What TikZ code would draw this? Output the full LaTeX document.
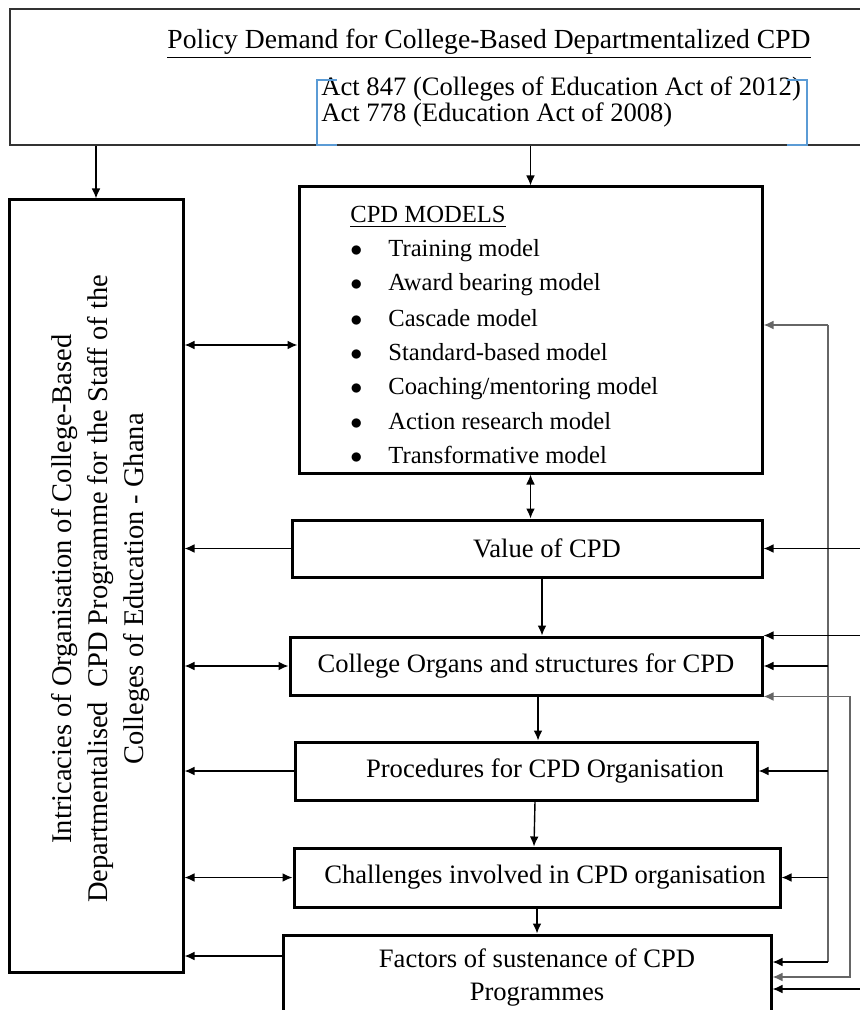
\documentclass[tikz,border=0pt]{standalone}
\usepackage{fontspec}
\setmainfont{Liberation Serif}
\usetikzlibrary{arrows.meta}
\usetikzlibrary{calc}
\definecolor{brack}{RGB}{91,155,213}
\tikzset{>={Latex[length=5pt,width=4.4pt]}}
\tikzset{box/.style={draw,line width=1.5pt,inner sep=0pt,align=center,font=\fontsize{13.3}{16.5}\selectfont}}
\tikzset{item/.style={anchor=base west,inner sep=0pt,font=\fontsize{12.3}{15}\selectfont}}
\tikzset{conn/.style={line width=.7pt}}
\tikzset{bus/.style={line width=.75pt,draw=black!60}}
\newcommand{\bulletitem}[1]{\makebox[1.545em][l]{$\bullet$}#1}

\begin{document}
\begin{tikzpicture}[x=.5pt,y=-.5pt]
  \useasboundingbox (0,0) rectangle (860,1010);
  % policy box on top
  \node[draw=black!80,line width=.9pt,minimum width=430pt,minimum height=68pt,inner sep=0pt] (policy) at (440,77) {};
  \node[anchor=base,inner sep=0pt,font=\fontsize{13.8}{16}\selectfont] (demand) at (489,49) {\underline{Policy Demand for College-Based Departmentalized CPD}};
  \node[anchor=base west,inner sep=0pt,font=\fontsize{13.3}{14}\selectfont] (act1) at (321,96) {Act 847 (Colleges of Education Act of 2012)};
  \node[anchor=base west,inner sep=0pt,font=\fontsize{13.3}{14}\selectfont] (act2) at (321,122) {Act 778 (Education Act of 2008)};
  \draw[brack,line width=.6pt] (337,80) -- (317,80) -- (317,145) -- (337,145);
  \draw[brack,line width=.6pt] (787,80) -- (807,80) -- (807,145) -- (787,145);

  % left box
  \node[box,minimum width=87pt,minimum height=386pt] (intr) at (96,586) {};
  \node[rotate=90,align=center,inner sep=0pt,font=\fontsize{14.25}{18}\selectfont] (intrtext) at (101,589) {Intricacies of Organisation of College-Based\\Departmentalised\ \ CPD Programme for the Staff of the\\Colleges of Education - Ghana};

  % models
  \node[box,minimum width=231.5pt,minimum height=143pt] (models) at (530.5,330) {};
  \node[item] (mhead) at (350,223) {\underline{CPD MODELS}};
  \node[item] (m1) at (350,257) {\bulletitem{Training model}};
  \node[item] (m2) at (350,291) {\bulletitem{Award bearing model}};
  \node[item] (m3) at (350,326) {\bulletitem{Cascade model}};
  \node[item] (m4) at (350,360) {\bulletitem{Standard-based model}};
  \node[item] (m5) at (350,394) {\bulletitem{Coaching/mentoring model}};
  \node[item] (m6) at (350,429) {\bulletitem{Action research model}};
  \node[item] (m7) at (350,463) {\bulletitem{Transformative model}};

  % stages
  \node[box,minimum width=235pt,minimum height=28.5pt] (value) at (527,548.5) {\hspace*{20pt}Value of CPD};
  \node[box,minimum width=236pt,minimum height=29pt] (organs) at (526,666) {College Organs and structures for CPD};
  \node[box,minimum width=231pt,minimum height=29pt] (procedures) at (526,771) {\hspace*{19pt}Procedures for CPD Organisation};
  \node[box,minimum width=243pt,minimum height=29.5pt] (challenges) at (537,877.5) {\hspace*{8pt}Challenges involved in CPD organisation};
  \node[box,minimum width=244pt,minimum height=42pt] (factors) at (527,977) {\hspace*{10pt}Factors of sustenance of CPD\\\hspace*{10pt}Programmes};

  % down the middle
  \draw[conn,->] (policy.south -| intr.north) -- (intr.north);
  \draw[conn,->] (policy.south -| models.north) -- (models.north);
  \draw[conn,<->] (models.south) -- (models.south |- value.north);
  \draw[conn,->] ($(value.south)+(15,0)$) -- ($(organs.north)+(16,0)$);
  \draw[conn,->] ($(organs.south)+(12,0)$) -- ($(procedures.north)+(12,0)$);
  \draw[conn,->] ($(procedures.south)+(9,0)$) -- ($(challenges.north)+(-3,0)$);
  \draw[conn,->] (challenges.south) -- (challenges.south |- factors.north);

  % to the left box
  \coordinate (mw) at ($(models.west)+(0,15)$);
  \coordinate (fw) at ($(factors.west)+(0,-21)$);
  \draw[conn,<->] (mw) -- (intr.east |- mw);
  \draw[conn,->] (value.west) -- (intr.east |- value.west);
  \draw[conn,<->] (organs.west) -- (intr.east |- organs.west);
  \draw[conn,->] (procedures.west) -- (intr.east |- procedures.west);
  \draw[conn,<->] (challenges.west) -- (intr.east |- challenges.west);
  \draw[conn,->] (fw) -- (intr.east |- fw);

  % feedback lines on the right
  \coordinate (ra) at (828,0);
  \coordinate (rb) at (850,0);
  \coordinate (edge) at (860,0);
  \coordinate (me) at ($(models.east)+(0,-5)$);
  \coordinate (fa) at ($(factors.east)+(0,-15)$);
  \coordinate (fc) at ($(factors.east)+(0,12)$);
  \draw[bus] (ra |- me) -- (ra |- fa);
  \draw[bus,->] (ra |- me) -- (me);
  \draw[conn,->] (ra |- organs.east) -- (organs.east);
  \draw[conn,->] (ra |- procedures.east) -- (procedures.east);
  \draw[conn,->] (ra |- challenges.east) -- (challenges.east);
  \draw[conn,->] (ra |- fa) -- (fa);
  \draw[bus,<->] (organs.south east) -- (rb |- organs.south east) -- (rb |- factors.east) -- (factors.east);
  \draw[conn,->] (edge |- value.east) -- (value.east);
  \draw[conn,->] (edge |- organs.north east) -- (organs.north east);
  \draw[conn,->] (edge |- fc) -- (fc);
\end{tikzpicture}
\end{document}
